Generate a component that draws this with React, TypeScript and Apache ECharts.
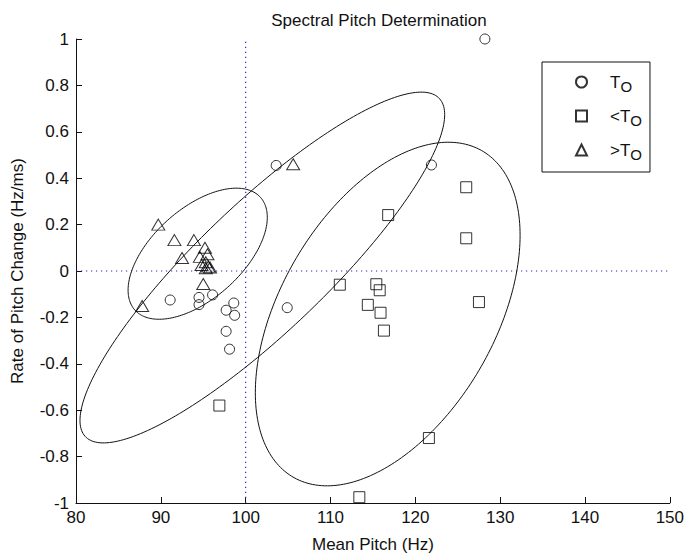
import React, { useEffect, useRef } from 'react';
import * as echarts from 'echarts';

// ---------- data ----------
const xRange = [80, 150];
const xStep = 10;
const yRange = [-1, 1];
const yStep = 0.2;

const seriesNames = ['T_O', '<T_O', '>T_O'];

// T_O (circles)
const circlePoints = [
  [128.2, 1.0], [103.6, 0.455], [121.9, 0.457], [91.1, -0.125], [94.5, -0.114],
  [94.5, -0.145], [96.1, -0.103], [98.6, -0.138], [97.7, -0.169], [98.7, -0.191],
  [97.7, -0.26], [98.1, -0.337], [104.9, -0.158],
];

// <T_O (squares)
const squarePoints = [
  [126.0, 0.361], [116.8, 0.241], [126.0, 0.141], [111.1, -0.059], [115.4, -0.057],
  [115.8, -0.083], [114.4, -0.146], [115.9, -0.18], [116.3, -0.257], [127.5, -0.134],
  [96.9, -0.58], [121.6, -0.72], [113.4, -0.975],
];

// >T_O (triangles)
const trianglePoints = [
  [89.7, 0.2], [91.6, 0.133], [93.9, 0.133], [92.5, 0.056], [94.6, 0.061],
  [95.2, 0.1], [95.5, 0.072], [95.3, 0.038], [94.8, 0.026], [95.6, 0.019],
  [95.3, 0.012], [95.8, 0.015], [95.0, -0.056], [87.8, -0.151], [105.6, 0.46],
];

// ellipses: [xMin, xMax, yMin, yMax, x where the ellipse touches yMax]
const ellipseSmall = [86.14, 102.55, -0.208, 0.357, 98.9];
const ellipseDiagonal = [80.47, 123.46, -0.741, 0.771, 120.7];
const ellipseRight = [101.14, 132.35, -0.926, 0.555, 123.9];

// dotted reference lines
const refVertical = [[100, -1], [100, 1]];
const refHorizontal = [[80, 0], [150, 0]];

// ---------- helpers ----------
function ellipseOutline(b: number[]) {
  const [x0, x1, y0, y1, xTop] = b;
  const cx = (x0 + x1) / 2;
  const rx = (x1 - x0) / 2;
  const cy = (y0 + y1) / 2;
  const ry = (y1 - y0) / 2;
  const phi = Math.acos(Math.max(-1, Math.min(1, (xTop - cx) / rx)));
  const pts: number[][] = [];
  const n = 240;
  for (let i = 0; i <= n; i++) {
    const t = (i / n) * Math.PI * 2;
    pts.push([cx + rx * Math.cos(t), cy + ry * Math.cos(t - phi)]);
  }
  return pts;
}

const FONT = '"Liberation Sans", Arial, Helvetica, sans-serif';
const hollow = { color: 'rgba(0,0,0,0)', borderColor: '#000', borderWidth: 1 };

export default function App() {
  const ref = useRef<HTMLDivElement>(null);

  useEffect(() => {
    if (!ref.current) return;
    const chart = echarts.init(ref.current, undefined, { renderer: 'svg' });

    const ellipseSeries = [ellipseSmall, ellipseDiagonal, ellipseRight].map((e) => ({
      type: 'line',
      data: ellipseOutline(e),
      showSymbol: false,
      symbol: 'none',
      silent: true,
      lineStyle: { color: '#111', width: 1 },
      z: 2,
    }));

    const refSeries = [refVertical, refHorizontal].map((d) => ({
      type: 'line',
      data: d,
      showSymbol: false,
      symbol: 'none',
      silent: true,
      lineStyle: { color: '#2a2ab8', width: 1.2, type: [1.2, 3.8] },
      z: 1,
    }));

    const legendText: Record<string, string> = {
      'T_O': '{t|T}{s|O}',
      '<T_O': '{t|<T}{s|O}',
      '>T_O': '{t|>T}{s|O}',
    };

    chart.setOption({
      animation: false,
      backgroundColor: '#fff',
      textStyle: { fontFamily: FONT },
      title: {
        text: 'Spectral Pitch Determination',
        left: 374,
        top: 7,
        textAlign: 'center',
        textStyle: { fontFamily: FONT, fontSize: 17, fontWeight: 'normal', color: '#111' },
      },
      grid: { left: 76, right: 15, top: 39, bottom: 50, containLabel: false },
      xAxis: {
        type: 'value',
        min: xRange[0],
        max: xRange[1],
        interval: xStep,
        name: 'Mean Pitch (Hz)',
        nameLocation: 'middle',
        nameGap: 33,
        nameTextStyle: { fontFamily: FONT, fontSize: 17, color: '#111' },
        axisLine: { show: true, onZero: false, lineStyle: { color: '#111', width: 1 } },
        axisTick: { show: true, inside: true, length: 6, lineStyle: { color: '#111', width: 1 } },
        axisLabel: { fontFamily: FONT, fontSize: 17, color: '#111', margin: 6 },
        splitLine: { show: false },
      },
      yAxis: {
        type: 'value',
        min: yRange[0],
        max: yRange[1],
        interval: yStep,
        name: 'Rate of Pitch Change (Hz/ms)',
        nameLocation: 'middle',
        nameGap: 50,
        nameTextStyle: { fontFamily: FONT, fontSize: 17, color: '#111' },
        axisLine: { show: true, onZero: false, lineStyle: { color: '#111', width: 1 } },
        axisTick: { show: true, inside: true, length: 6, lineStyle: { color: '#111', width: 1 } },
        axisLabel: { fontFamily: FONT, fontSize: 17, color: '#111', margin: 7 },
        splitLine: { show: false },
      },
      legend: {
        data: seriesNames,
        orient: 'vertical',
        left: 542,
        top: 62,
        padding: [8, 8, 10, 33],
        itemGap: 10,
        itemWidth: 11,
        itemHeight: 11,
        borderColor: '#111',
        borderWidth: 1,
        selectedMode: false,
        formatter: (name: string) => legendText[name],
        textStyle: {
          padding: [0, 0, 0, 18],
          rich: {
            t: { fontFamily: FONT, fontSize: 17, color: '#111', lineHeight: 23 },
            s: { fontFamily: FONT, fontSize: 15, color: '#111', lineHeight: 23, padding: [9, 0, 0, 0] },
          },
        },
      },
      series: [
        ...refSeries,
        ...ellipseSeries,
        {
          name: seriesNames[0],
          type: 'scatter',
          data: circlePoints,
          symbol: 'circle',
          symbolSize: 10,
          itemStyle: hollow,
          z: 3,
        },
        {
          name: seriesNames[1],
          type: 'scatter',
          data: squarePoints,
          symbol: 'rect',
          symbolSize: 11,
          itemStyle: hollow,
          z: 3,
        },
        {
          name: seriesNames[2],
          type: 'scatter',
          data: trianglePoints,
          symbol: 'triangle',
          symbolSize: [13, 11],
          itemStyle: hollow,
          z: 3,
        },
      ],
    });

    return () => chart.dispose();
  }, []);

  return (
    <div
      ref={ref}
      style={{ position: 'absolute', left: 0, top: 0, width: 687, height: 558, background: '#fff' }}
    />
  );
}
